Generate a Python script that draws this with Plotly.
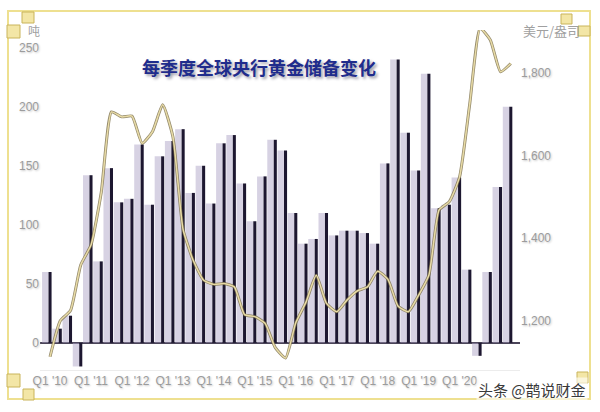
import plotly.graph_objects as go

# ---- data ----
quarters = list(range(46))  # Q1 2010 ... Q2 2021
tick_idx = [0, 4, 8, 12, 16, 20, 24, 28, 32, 36, 40]
tick_text = ["Q1 '10", "Q1 '11", "Q1 '12", "Q1 '13", "Q1 '14", "Q1 '15",
             "Q1 '16", "Q1 '17", "Q1 '18", "Q1 '19", "Q1 '20"]
tons = [60, 12, 23, -20, 142, 69, 148, 119, 122, 168, 117, 158,
        171, 181, 127, 150, 118, 169, 176, 135, 103, 141, 172, 163,
        110, 84, 88, 110, 91, 95, 95, 93, 84, 152, 240, 178,
        146, 228, 114, 117, 140, 62, -11, 60, 132, 200]
gold = [1113, 1200, 1225, 1335, 1383, 1510, 1705, 1693, 1695, 1629, 1657, 1722,
        1645, 1420, 1345, 1298, 1288, 1290, 1282, 1215, 1210, 1194, 1135, 1110,
        1195, 1245, 1310, 1242, 1222, 1250, 1272, 1282, 1320, 1300, 1235, 1222,
        1262, 1310, 1468, 1488, 1548, 1726, 1907, 1879, 1802, 1822]
left_ticks = [0, 50, 100, 150, 200, 250]
right_ticks = [1200, 1400, 1600, 1800]

TITLE = "每季度全球央行黄金储备变化"
WATERMARK = "头条 @鹊说财金"

# ---- layout geometry ----
W, H = 600, 412
ML, MR, MT, MB = 40, 80, 30, 42
PW, PH = W - ML - MR, H - MT - MB


def px(xp):
    return (xp - ML) / PW


def py(yp):
    return (H - MB - yp) / PH


fig = go.Figure()

# soft lavender shadow band to the left of each bar
fig.add_trace(go.Bar(x=quarters, y=tons, width=0.62, offset=-0.78,
                     marker=dict(color="rgba(175,165,200,0.5)", line=dict(width=0)),
                     hoverinfo="skip", showlegend=False))
# dark narrow bar
fig.add_trace(go.Bar(x=quarters, y=tons, width=0.3, offset=-0.15,
                     marker=dict(color="#1d1730", line=dict(width=0)),
                     showlegend=False))
# gold price line (dark outline + light core)
fig.add_trace(go.Scatter(x=quarters, y=gold, yaxis="y2", mode="lines",
                         line=dict(color="#7a6e48", width=3.0, shape="spline", smoothing=0.5),
                         opacity=0.8, hoverinfo="skip", showlegend=False))
fig.add_trace(go.Scatter(x=quarters, y=gold, yaxis="y2", mode="lines",
                         line=dict(color="#e8dba6", width=1.5, shape="spline", smoothing=0.5),
                         showlegend=False))

tick_font = dict(family="Liberation Sans, Arial, sans-serif", size=12, color="#9c9c9c",
                 shadow="1px 1px 2px #c8c8c8")

shapes = [
    # golden frame
    dict(type="rect", xref="paper", yref="paper", x0=px(8), x1=px(590), y0=py(399), y1=py(11),
         line=dict(color="#eee090", width=2), layer="below"),
]
# little corner decorations
for (x0, y0, x1, y1) in [(7, 25, 20, 38), (22, 12, 34, 23), (7, 374, 20, 387), (23, 389, 34, 400),
                         (561, 14, 572, 24), (578, 26, 590, 36), (577, 372, 588, 383)]:
    shapes.append(dict(type="rect", xref="paper", yref="paper",
                       x0=px(x0), x1=px(x1), y0=py(y1), y1=py(y0),
                       line=dict(color="#c9b45a", width=1), fillcolor="#f3e6a6"))

fig.update_layout(
    width=W, height=H,
    margin=dict(l=ML, r=MR, t=MT, b=MB),
    paper_bgcolor="white", plot_bgcolor="white",
    barmode="overlay",
    xaxis=dict(range=[-0.98, 45.9], tickmode="array", tickvals=tick_idx, ticktext=tick_text,
               tickfont=tick_font, showgrid=False, zeroline=False, ticks="",
               showline=True, linecolor="#ececec", linewidth=1, tickangle=0),
    yaxis=dict(range=[-23, 265], tickvals=left_ticks, tickfont=tick_font, showgrid=False,
               zeroline=True, zerolinecolor="#4a4458", zerolinewidth=2, ticks="",
               showline=False),
    yaxis2=dict(range=[1081, 1903], tickvals=right_ticks, tickformat=",", overlaying="y",
                side="right", tickfont=tick_font, showgrid=False, zeroline=False,
                ticks="", showline=False),
    shapes=shapes,
    annotations=[
        dict(text=TITLE, xref="paper", yref="paper", x=px(259), y=py(67), showarrow=False,
             xanchor="center", yanchor="middle",
             font=dict(family="Noto Sans CJK SC", size=18, color="#1f2c8c",
                       weight="bold", shadow="2px 2px 3px #9a9aa8")),
        dict(text="吨", xref="paper", yref="paper", x=px(34), y=py(30), showarrow=False,
             xanchor="center", yanchor="middle",
             font=dict(family="Noto Sans CJK SC", size=12, color="#a0a0a0")),
        dict(text="美元/盎司", xref="paper", yref="paper", x=px(521), y=py(31), showarrow=False,
             xanchor="left", yanchor="middle",
             font=dict(family="Noto Sans CJK SC", size=13, color="#a0a0a0")),
        dict(text=WATERMARK, xref="paper", yref="paper", x=px(588), y=py(389), showarrow=False,
             xanchor="right", yanchor="middle", bgcolor="rgba(255,255,255,0.6)",
             font=dict(family="Noto Sans CJK SC", size=15, color="#3a3a3a",
                       shadow="0px 0px 2px #ffffff")),
    ],
)

fig.write_html("out.html", config={"displayModeBar": False},
               post_script="document.body.style.margin='0';document.body.style.overflow='hidden';")
